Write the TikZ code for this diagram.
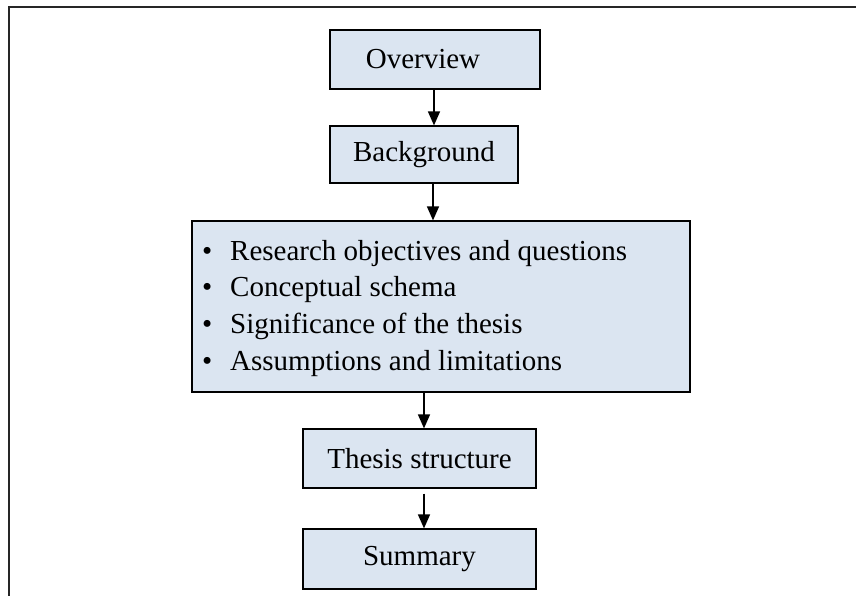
\documentclass[tikz,border=0pt]{standalone}
\usepackage{fontspec}
\setmainfont{Liberation Serif}
\usetikzlibrary{arrows.meta}
\definecolor{boxfill}{HTML}{DBE5F1}
\begin{document}
\begin{tikzpicture}[x=1pt,y=-1pt,
  txt/.style={font=\fontsize{29}{34}\selectfont},
  box/.style={draw=black, line width=1.2pt, fill=boxfill, inner sep=0pt, txt},
  lbl/.style={txt, inner sep=0pt},
  arr/.style={line width=1.4pt, -{Triangle[length=14pt,width=12pt]}}]
\useasboundingbox (0,0) rectangle (856,596);
\coordinate (fa) at (9,596);
\coordinate (fb) at (9,7);
\coordinate (fc) at (856,7);
\draw[line width=2pt, black!85] (fa) -- (fb) -- (fc);
\node[box, minimum width=210pt, minimum height=59pt] (ov) at (435,59.5) {};
\node[lbl] (ovt) at (423,59.5) {Overview};
\node[box, minimum width=188pt, minimum height=57pt] (bg) at (424,154.5) {Background};
\node[box, minimum width=498pt, minimum height=171pt] (big) at (441,306.5) {};
\node[box, minimum width=233pt, minimum height=59pt] (ts) at (419.5,458.5) {Thesis structure};
\node[box, minimum width=233pt, minimum height=60pt] (sm) at (419.5,559) {Summary};
\node[lbl, anchor=base west] (b1) at (202,260) {•};
\node[lbl, anchor=base west] (b2) at (202,296.7) {•};
\node[lbl, anchor=base west] (b3) at (202,333.3) {•};
\node[lbl, anchor=base west] (b4) at (202,370) {•};
\node[lbl, anchor=base west] (t1) at (230,260) {Research objectives and questions};
\node[lbl, anchor=base west] (t2) at (230,296.7) {Conceptual schema};
\node[lbl, anchor=base west] (t3) at (230,333.3) {Significance of the thesis};
\node[lbl, anchor=base west] (t4) at (230,370) {Assumptions and limitations};
\coordinate (c1) at (434,0);
\coordinate (c2) at (433,0);
\coordinate (c3) at (424,0);
\draw[arr] (ov.south -| c1) -- (bg.north -| c1);
\draw[arr] (bg.south -| c2) -- (big.north -| c2);
\draw[arr] (big.south -| c3) -- (ts.north -| c3);
\draw[arr] (ts.south -| c3) ++(0,5) -- (sm.north -| c3);
\end{tikzpicture}
\end{document}
